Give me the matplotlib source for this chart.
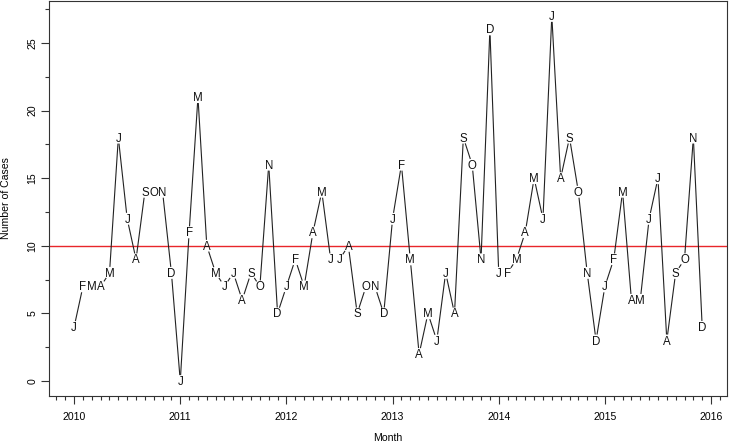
"""Monthly case counts 2010-2015 drawn R-style with month letters as points."""

import matplotlib

matplotlib.use("Agg")
import matplotlib.pyplot as plt
import numpy as np
from matplotlib.collections import LineCollection
from matplotlib.ticker import MultipleLocator
from matplotlib.transforms import offset_copy

month_letters = list("JFMAMJJASOND")
start_year = 2010
cases = [
    4, 7, 7, 7, 8, 18, 12, 9, 14, 14, 14, 8,    # 2010
    0, 11, 21, 10, 8, 7, 8, 6, 8, 7, 16, 5,     # 2011
    7, 9, 7, 11, 14, 9, 9, 10, 5, 7, 7, 5,      # 2012
    12, 16, 9, 2, 5, 3, 8, 5, 18, 16, 9, 26,    # 2013
    8, 8, 9, 11, 15, 12, 27, 15, 18, 14, 8, 3,  # 2014
    7, 9, 14, 6, 6, 12, 15, 3, 8, 9, 18, 4,     # 2015
]
reference_level = 10
year_ticks = [2010, 2011, 2012, 2013, 2014, 2015, 2016]

plt.rcParams["font.family"] = ["Liberation Sans", "DejaVu Sans"]

t = start_year + np.arange(len(cases)) / 12.0
y = np.asarray(cases, dtype=float)
labels = [month_letters[i % 12] for i in range(len(cases))]

fig = plt.figure(figsize=(7.29, 4.46), dpi=100)
ax = fig.add_axes([0.0672, 0.1128, 0.9305, 0.8843])

# R-style 4% axis padding
xpad = 0.04 * (t[-1] - t[0])
ypad = 0.04 * (y.max() - y.min())
ax.set_xlim(t[0] - xpad, t[-1] + xpad)
ax.set_ylim(y.min() - ypad, y.max() + ypad)

ax.axhline(reference_level, color="#e8262a", linewidth=1.0, zorder=1)

# type="b": segments stop short of each point
gap = 6.0
pts = ax.transData.transform(np.column_stack([t, y]))
inv = ax.transData.inverted()
segs = []
for p0, p1 in zip(pts[:-1], pts[1:]):
    d = p1 - p0
    length = np.hypot(*d)
    if length > 2 * gap:
        u = d / length
        segs.append(inv.transform([p0 + u * gap, p1 - u * gap]))
ax.add_collection(LineCollection(segs, colors="#222222", linewidths=0.8, zorder=2))

letter_tr = offset_copy(ax.transData, fig=fig, y=-1.0, units="dots")
for xi, yi, lab in zip(t, y, labels):
    ax.text(xi, yi, lab, ha="center", va="center", fontsize=8.3,
            color="#111111", zorder=3, transform=letter_tr)

ax.set_xticks(year_ticks)
ax.set_xticklabels([str(v) for v in year_ticks])
ax.xaxis.set_minor_locator(MultipleLocator(1 / 12))
ax.yaxis.set_major_locator(MultipleLocator(5))
ax.yaxis.set_minor_locator(MultipleLocator(2.5))
ax.tick_params(which="major", length=5.5, width=0.8, color="#333333", labelsize=7.6, pad=6)
ax.tick_params(which="minor", length=3, width=0.8, color="#333333")
ax.tick_params(axis="y", labelrotation=90, pad=3)
for lab in ax.get_yticklabels():
    lab.set_va("center")

for spine in ax.spines.values():
    spine.set_color("#333333")
    spine.set_linewidth(0.8)

# axis titles placed in figure pixels, as in the R layout
fig.text(388 / 729, 1 - 438 / 446, "Month", fontsize=7.6, ha="center", va="center")
fig.text(6 / 729, 1 - 198.5 / 446, "Number of Cases", fontsize=7.6,
         rotation=90, ha="center", va="center")

fig.savefig("out.png", dpi=100)
plt.close(fig)
